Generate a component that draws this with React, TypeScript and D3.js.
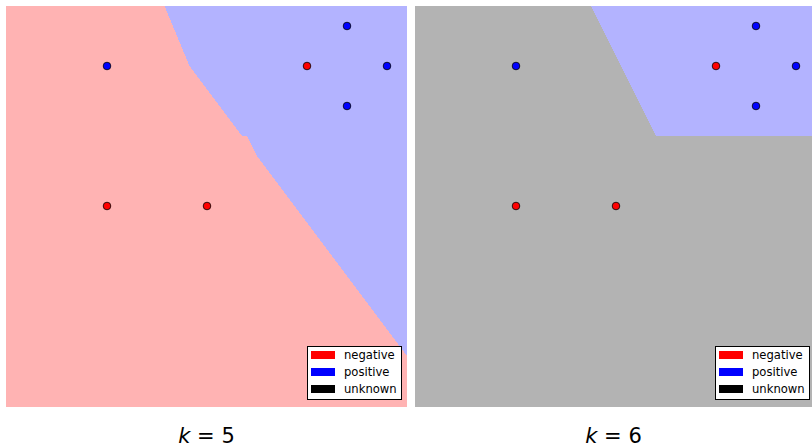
import React from 'react';
import * as d3 from 'd3';

// training points (data units, y up)
const pointX = [5, 15, 17, 19, 17, 5, 10];
const pointY = [17, 17, 19, 17, 15, 10, 10];
const pointLabel = ['positive', 'negative', 'positive', 'positive', 'positive', 'negative', 'negative'];
const kValues = [5, 6];
const legendLabels = ['negative', 'positive', 'unknown'];

const regionColor: Record<string, string> = { negative: '#ffb3b3', positive: '#b3b3ff', unknown: '#b3b3b3' };
const markColor: Record<string, string> = { negative: '#ff0000', positive: '#0000ff', unknown: '#000000' };

const W = 812;
const H = 448;

function classify(x: number, y: number, k: number) {
  const d = pointX.map((px, i) => ({ d: (px - x) ** 2 + (pointY[i] - y) ** 2, l: pointLabel[i] }));
  d.sort((a, b) => a.d - b.d);
  let neg = 0, pos = 0;
  for (let i = 0; i < k; i++) {
    if (d[i].l === 'negative') neg++; else pos++;
  }
  return neg > pos ? 'negative' : pos > neg ? 'positive' : 'unknown';
}

const Panel = ({ k, left, right }: { k: number; left: number; right: number }) => {
  const x = d3.scaleLinear().domain([-0.05, 20]).range([left, right]);
  const y = d3.scaleLinear().domain([-0.05, 20]).range([407, 6]);

  // run-length rows of classified pixels
  const rects: { x: number; y: number; w: number; c: string }[] = [];
  const x0 = left;
  const x1 = Math.min(right, W);
  const [y1, y0] = y.range();
  for (let py = y0; py < y1; py++) {
    let start = x0;
    let cur = classify(x.invert(x0 + 0.5), y.invert(py + 0.5), k);
    for (let px = x0 + 1; px <= x1; px++) {
      const c = px < x1 ? classify(x.invert(px + 0.5), y.invert(py + 0.5), k) : '';
      if (c !== cur) {
        rects.push({ x: start, y: py, w: px - start, c: cur });
        start = px;
        cur = c;
      }
    }
  }

  const lx = Math.min(right - 100, 715);
  const ly = 346;
  const cx = (left + Math.min(right, 812)) / 2;

  return (
    <g>
      <g shapeRendering="crispEdges">
        {rects.map((r, i) => (
          <rect key={i} x={r.x} y={r.y} width={r.w} height={1} fill={regionColor[r.c]} />
        ))}
      </g>
      {pointX.map((px, i) => (
        <circle key={i} cx={x(px)} cy={y(pointY[i])} r={3.8} fill={markColor[pointLabel[i]]} stroke="#000" strokeWidth={0.8} />
      ))}
      <g transform={`translate(${lx},${ly})`}>
        <rect x={0.5} y={0.5} width={94} height={53} fill="#fff" stroke="#000" strokeWidth={1} />
        {legendLabels.map((l, i) => (
          <g key={l} transform={`translate(0,${i * 17})`}>
            <rect x={4} y={5} width={24} height={8} fill={markColor[l]} />
            <text x={37} y={13} fontSize={11.6} fontFamily="DejaVu Sans" fill="#000">{l}</text>
          </g>
        ))}
      </g>
      <text x={cx} y={443} textAnchor="middle" fontSize={21} fontFamily="DejaVu Sans" fill="#000">
        <tspan fontStyle="italic">k</tspan>
        <tspan> = {k}</tspan>
      </text>
    </g>
  );
};

export default function App() {
  return (
    <svg width={W} height={H} style={{ position: 'absolute', left: 0, top: 0 }}>
      <rect width={W} height={H} fill="#fff" />
      <Panel k={kValues[0]} left={6} right={407} />
      <Panel k={kValues[1]} left={415} right={816} />
    </svg>
  );
}
